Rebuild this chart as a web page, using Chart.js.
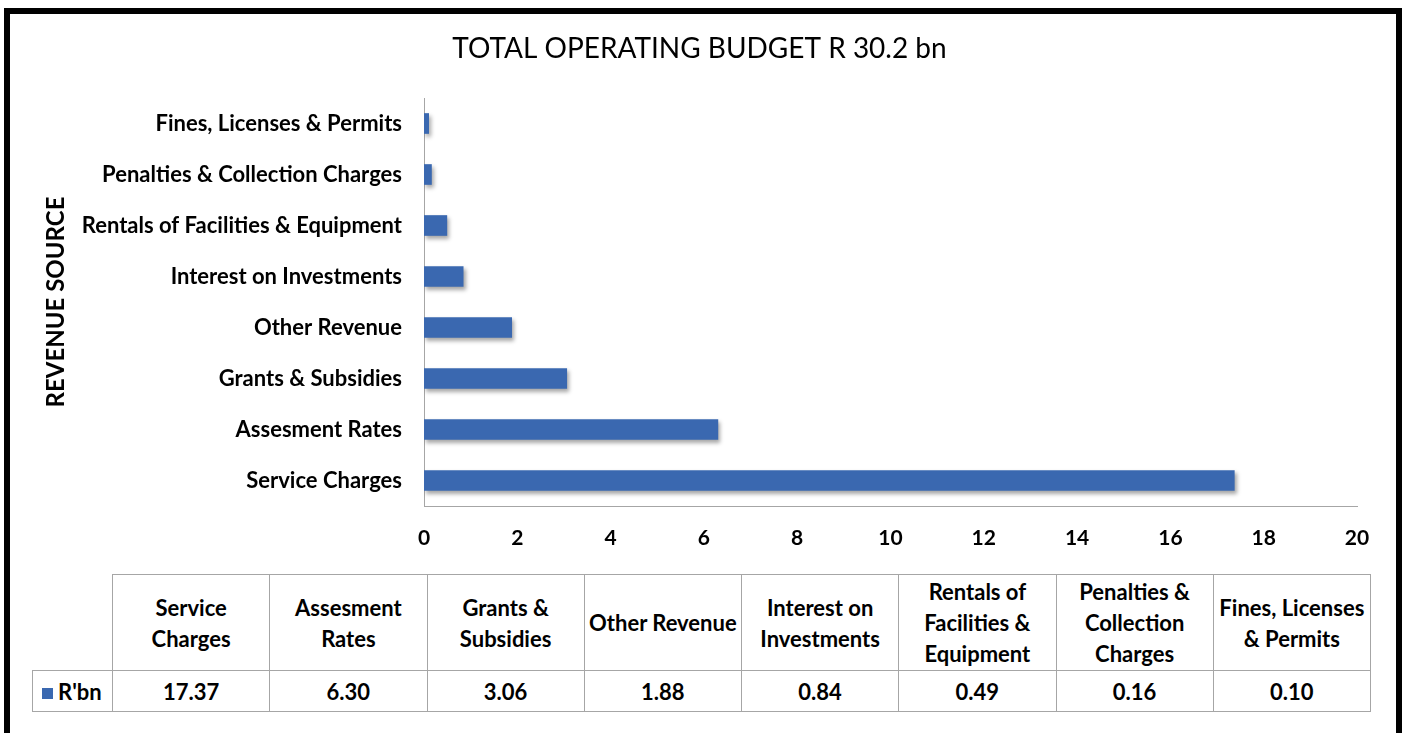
<!DOCTYPE html>
<html>
<head>
<meta charset="utf-8">
<title>Total Operating Budget</title>
<script src="https://cdn.jsdelivr.net/npm/chart.js@4.4.1/dist/chart.umd.min.js"></script>
<style>
  html, body { margin: 0; padding: 0; background: #fff; }
  body { width: 1404px; height: 733px; position: relative; overflow: hidden; font-family: Lato, "Open Sans", sans-serif; }
  #frame { position: absolute; left: 4px; top: 8px; width: 1386px; height: 740px; border: 6px solid #000; border-bottom: none; }
  #chartWrap { position: absolute; left: 12px; top: 14px; width: 1384px; height: 556px; }
  #dataTable { position: absolute; left: 32px; top: 574px; border-collapse: collapse; table-layout: fixed; width: 1338px; }
  #dataTable td { border: 1px solid #a6a6a6; text-align: center; vertical-align: middle; font-weight: 700; font-size: 22px; color: #000; padding: 0; white-space: nowrap; }
  #dataTable tr.head td { height: 95px; line-height: 31px; }
  #dataTable tr.vals td { height: 40px; }
  #dataTable td.corner { border-top: none; border-left: none; }
  #dataTable td.key { text-align: left; padding-left: 9px; }
  .swatch { display: inline-block; width: 11px; height: 11px; background: #3A68B0; margin-right: 5px; vertical-align: 1px; }
</style>
</head>
<body>
<div id="frame"></div>
<div id="chartWrap"><canvas id="budgetChart"></canvas></div>
<table id="dataTable">
  <colgroup id="cols"></colgroup>
  <tr class="head" id="headRow"><td class="corner"></td></tr>
  <tr class="vals" id="valRow"><td class="key"><span class="swatch"></span>R'bn</td></tr>
</table>
<script>
const categories = [
  'Service Charges',
  'Assesment Rates',
  'Grants & Subsidies',
  'Other Revenue',
  'Interest on Investments',
  'Rentals of Facilities & Equipment',
  'Penalties & Collection Charges',
  'Fines, Licenses & Permits'
];
const values = [17.37, 6.30, 3.06, 1.88, 0.84, 0.49, 0.16, 0.10];
const headerLines = [
  ['Service', 'Charges'],
  ['Assesment', 'Rates'],
  ['Grants &', 'Subsidies'],
  ['Other Revenue'],
  ['Interest on', 'Investments'],
  ['Rentals of', 'Facilities &', 'Equipment'],
  ['Penalties &', 'Collection', 'Charges'],
  ['Fines, Licenses', '& Permits']
];
const seriesName = "R'bn";
const xMin = 0, xMax = 20, xStep = 2;

const BAR_COLOR = '#3A68B0';
const AXIS_GREY = '#a6a6a6';
const FONT = 'Lato, "Open Sans", sans-serif';

// data table under the chart
const cols = document.getElementById('cols');
const headRow = document.getElementById('headRow');
const valRow = document.getElementById('valRow');
cols.innerHTML = '<col style="width:80px">' + categories.map(() => '<col style="width:157.25px">').join('');
headerLines.forEach(lines => {
  const td = document.createElement('td');
  td.innerHTML = lines.map(l => l.replace(/&/g, '&amp;')).join('<br>');
  headRow.appendChild(td);
});
values.forEach(v => {
  const td = document.createElement('td');
  td.textContent = v.toFixed(2);
  valRow.appendChild(td);
});

// soft drop shadow under the bars, like the office chart
const barShadow = {
  id: 'barShadow',
  beforeDatasetsDraw(chart) {
    const c = chart.ctx;
    c.save();
    c.shadowColor = 'rgba(0,0,0,0.35)';
    c.shadowBlur = 4;
    c.shadowOffsetX = 2;
    c.shadowOffsetY = 3;
  },
  afterDatasetsDraw(chart) {
    chart.ctx.restore();
  }
};

const ctx = document.getElementById('budgetChart').getContext('2d');
new Chart(ctx, {
  type: 'bar',
  data: {
    labels: categories,
    datasets: [{
      label: seriesName,
      data: values,
      backgroundColor: BAR_COLOR,
      borderWidth: 0,
      barThickness: 20
    }]
  },
  options: {
    indexAxis: 'y',
    responsive: true,
    maintainAspectRatio: false,
    animation: false,
    layout: { padding: { left: 30, right: 39, top: 0, bottom: 0 } },
    plugins: {
      legend: { display: false },
      tooltip: { enabled: false },
      title: {
        display: true,
        text: 'TOTAL OPERATING BUDGET R 30.2 bn',
        color: '#000',
        font: { family: FONT, size: 28, weight: '400', lineHeight: 1.2 },
        padding: { top: 18, bottom: 32.4 }
      }
    },
    scales: {
      x: {
        min: xMin,
        max: xMax,
        grid: { display: false, drawTicks: false },
        border: { display: true, color: AXIS_GREY, width: 1 },
        ticks: {
          stepSize: xStep,
          padding: 20,
          color: '#000',
          font: { family: FONT, size: 21, weight: '700' }
        },
        afterFit: s => { s.height = 64; }
      },
      y: {
        reverse: true,
        grid: { display: false, drawTicks: false },
        border: { display: true, color: AXIS_GREY, width: 1 },
        ticks: {
          padding: 22,
          color: '#000',
          font: { family: FONT, size: 22, weight: '700' }
        },
        title: {
          display: true,
          text: 'REVENUE SOURCE',
          color: '#000',
          padding: 0,
          font: { family: FONT, size: 24, weight: '700', lineHeight: 1.2 }
        },
        afterFit: s => { s.width = 382; }
      }
    }
  },
  plugins: [barShadow]
});
</script>
</body>
</html>
